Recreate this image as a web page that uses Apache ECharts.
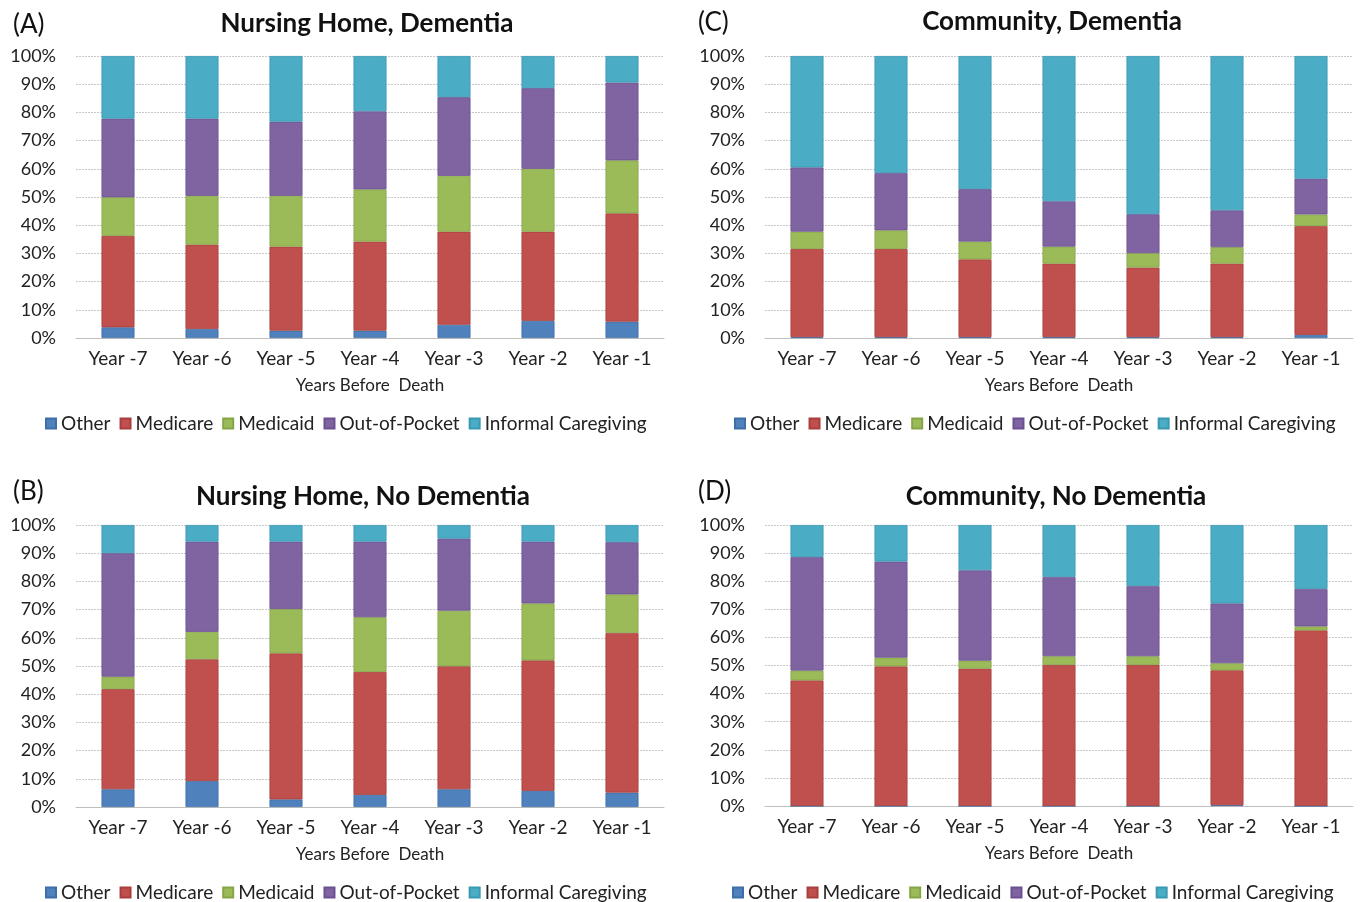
<!DOCTYPE html>
<html>
<head>
<meta charset="utf-8">
<script src="https://cdn.jsdelivr.net/npm/echarts@6/dist/echarts.min.js"></script>
<style>
html,body{margin:0;padding:0;background:#fff;}
#chart{width:1362px;height:902px;}
</style>
</head>
<body>
<div id="chart"></div>
<script>
// Categories and labels
var categories = ['Year -7','Year -6','Year -5','Year -4','Year -3','Year -2','Year -1'];
var seriesNames = ['Other','Medicare','Medicaid','Out-of-Pocket','Informal Caregiving'];
var yTicks = [0,10,20,30,40,50,60,70,80,90,100];
var panelTitles = ['Nursing Home, Dementia','Community, Dementia','Nursing Home, No Dementia','Community, No Dementia'];
var panelLetters = ['(A)','(C)','(B)','(D)'];
var xAxisTitle = 'Years Before  Death';

// (A) Nursing Home, Dementia (% shares)
var aOther    = [3.8, 3.2, 2.6, 2.6, 4.7, 6.1, 5.8];
var aMedicare = [32.4, 29.9, 29.8, 31.6, 33.0, 31.6, 38.4];
var aMedicaid = [13.7, 17.3, 18.0, 18.5, 19.8, 22.3, 18.8];
var aOOP      = [27.9, 27.4, 26.3, 27.7, 27.9, 28.6, 27.6];
var aInformal = [22.2, 22.2, 23.3, 19.6, 14.6, 11.4, 9.4];

// (C) Community, Dementia
var cOther    = [0.3, 0.3, 0.3, 0.3, 0.3, 0.3, 1.1];
var cMedicare = [31.3, 31.3, 27.6, 26.1, 24.7, 26.1, 38.6];
var cMedicaid = [6.1, 6.6, 6.3, 6.0, 5.1, 5.8, 4.1];
var cOOP      = [22.8, 20.3, 18.6, 16.1, 13.8, 13.1, 12.7];
var cInformal = [39.5, 41.5, 47.2, 51.5, 56.1, 54.7, 43.5];

// (B) Nursing Home, No Dementia
var bOther    = [6.3, 9.2, 2.7, 4.3, 6.3, 5.7, 5.1];
var bMedicare = [35.5, 43.2, 51.8, 43.6, 43.6, 46.3, 56.6];
var bMedicaid = [4.4, 9.7, 15.7, 19.4, 19.7, 20.2, 13.7];
var bOOP      = [43.8, 32.0, 23.9, 26.8, 25.6, 21.9, 18.5];
var bInformal = [10.0, 5.9, 5.9, 5.9, 4.8, 5.9, 6.1];

// (D) Community, No Dementia
var dOther    = [0, 0, 0, 0, 0, 0.3, 0];
var dMedicare = [44.7, 49.7, 48.9, 50.2, 50.2, 48.0, 62.5];
var dMedicaid = [3.5, 3.1, 2.8, 3.1, 3.1, 2.5, 1.4];
var dOOP      = [40.4, 34.2, 32.2, 28.2, 25.0, 21.3, 13.4];
var dInformal = [11.4, 13.0, 16.1, 18.5, 21.7, 27.9, 22.7];

var panels = [
  [aOther, aMedicare, aMedicaid, aOOP, aInformal],
  [cOther, cMedicare, cMedicaid, cOOP, cInformal],
  [bOther, bMedicare, bMedicaid, bOOP, bInformal],
  [dOther, dMedicare, dMedicaid, dOOP, dInformal]
];

var colors = ['#4F81BD','#C0504D','#9BBB59','#8064A2','#4BACC6'];
var borders = ['#3d6ea8','#a83f3c','#86a548','#6b5190','#3a98b2'];
var FONT = 'Lato, "Open Sans", sans-serif';

// layout
var gridPos = [
  {left:76, top:56, width:588, height:282},
  {left:765, top:56, width:588, height:282},
  {left:76, top:525, width:588, height:282},
  {left:765, top:525, width:588, height:281}
];
var titlePos = [
  {x:362, y:6}, {x:1047, y:4}, {x:358, y:479}, {x:1051, y:479}
];
var letterPos = [
  {x:8, y:7}, {x:693, y:5}, {x:8, y:474}, {x:693, y:474}
];
var legendPos = [
  {x:40, y:409}, {x:729, y:409}, {x:40, y:878}, {x:727, y:878}
];

var option = {
  animation: false,
  color: colors,
  textStyle: {fontFamily: FONT},
  title: [],
  legend: [],
  grid: [],
  xAxis: [],
  yAxis: [],
  series: []
};

for (var p = 0; p < 4; p++) {
  option.title.push({
    text: panelTitles[p], left: titlePos[p].x, top: titlePos[p].y, textAlign: 'center',
    textStyle: {fontFamily: FONT, fontSize: 26, fontWeight: 'bold', color: '#111'}
  });
  option.title.push({
    text: panelLetters[p], left: letterPos[p].x, top: letterPos[p].y,
    textStyle: {fontFamily: FONT, fontSize: 26, fontWeight: 'normal', color: '#111'}
  });
  option.legend.push({
    data: seriesNames.slice(), left: legendPos[p].x, top: legendPos[p].y,
    itemWidth: 10, itemHeight: 10, itemGap: 9, icon: 'rect',
    selectedMode: false,
    textStyle: {fontFamily: FONT, fontSize: 19, color: '#222'}
  });
  option.grid.push(Object.assign({containLabel: false}, gridPos[p]));
  option.xAxis.push({
    type: 'category', gridIndex: p, data: categories,
    name: xAxisTitle, nameLocation: 'middle', nameGap: 39,
    nameTextStyle: {fontFamily: FONT, fontSize: 17, color: '#222'},
    axisLine: {show: true, lineStyle: {color: '#bfbfbf', width: 1}},
    axisTick: {show: false},
    axisLabel: {margin: 11, fontFamily: FONT, fontSize: 19, color: '#222', interval: 0}
  });
  option.yAxis.push({
    type: 'value', gridIndex: p, min: 0, max: 100, interval: 10,
    axisLine: {show: false}, axisTick: {show: false},
    splitLine: {show: true, lineStyle: {color: '#c8c8c8', width: 1, type: [2,1]}},
    axisLabel: {margin: 20, fontFamily: FONT, fontSize: 18, color: '#222',
      formatter: function (v) { return v + '%'; }}
  });
  for (var s = 0; s < 5; s++) {
    option.series.push({
      type: 'bar', name: seriesNames[s], stack: 'total' + p,
      xAxisIndex: p, yAxisIndex: p, barWidth: 33,
      data: panels[p][s],
      itemStyle: {color: colors[s], borderColor: borders[s], borderWidth: 0.8},
      emphasis: {disabled: true}
    });
  }
}

var chart = echarts.init(document.getElementById('chart'), null, {renderer: 'canvas'});
chart.setOption(option);
</script>
</body>
</html>
